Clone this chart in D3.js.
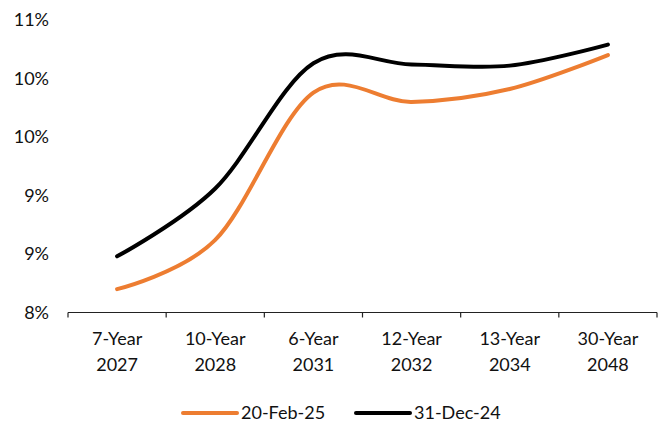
<!DOCTYPE html>
<html>
<head>
<meta charset="utf-8">
<script src="https://cdn.jsdelivr.net/npm/d3@7"></script>
<style>
  body { margin: 0; background: #fff; }
  text { font-family: Lato, "Open Sans", sans-serif; fill: #111; }
</style>
</head>
<body>
<div id="chart"></div>
<script>
var categories = ["7-Year|2027", "10-Year|2028", "6-Year|2031", "12-Year|2032", "13-Year|2034", "30-Year|2048"];
var feb25 = [8.20, 8.62, 9.88, 9.80, 9.91, 10.20];
var dec24 = [8.48, 9.06, 10.13, 10.12, 10.11, 10.29];
var yTicks = [8.0, 8.5, 9.0, 9.5, 10.0, 10.5];
var seriesNames = ["20-Feb-25", "31-Dec-24"];
var seriesColors = ["#ED7D31", "#000000"];

var width = 667, height = 428;
var margin = { top: 20, right: 10, bottom: 116, left: 68 };

var svg = d3.select("#chart").append("svg")
  .attr("width", width)
  .attr("height", height);

var x = d3.scaleBand()
  .domain(categories)
  .range([margin.left, 657]);

var y = d3.scaleLinear()
  .domain([8.0, 10.5])
  .range([312.5, margin.top]);

// y labels, no axis line
svg.append("g")
  .selectAll("text")
  .data(yTicks)
  .enter()
  .append("text")
  .attr("x", 49)
  .attr("y", function(d) { return y(d); })
  .attr("dy", "0.36em")
  .attr("text-anchor", "end")
  .style("font-size", "18px")
  .text(function(d) { return Math.round(d + 1e-9) + "%"; });

// x axis with ticks between categories
var xAxis = svg.append("g")
  .attr("transform", "translate(0," + y(8.0) + ")");
xAxis.append("line")
  .attr("x1", x.range()[0]).attr("x2", x.range()[1])
  .attr("stroke", "#222").attr("stroke-width", 1.2);
xAxis.selectAll(".tick")
  .data(categories.concat(["end"]))
  .enter()
  .append("line")
  .attr("x1", function(d, i) { return x.range()[0] + i * x.step(); })
  .attr("x2", function(d, i) { return x.range()[0] + i * x.step(); })
  .attr("y1", 0).attr("y2", 5)
  .attr("stroke", "#222").attr("stroke-width", 1.2);

var labels = xAxis.selectAll(".lbl")
  .data(categories)
  .enter()
  .append("text")
  .attr("text-anchor", "middle")
  .attr("transform", function(d) { return "translate(" + (x(d) + x.bandwidth() / 2) + ",0)"; })
  .style("font-size", "18px");
labels.append("tspan").attr("x", 0).attr("y", 32).text(function(d) { return d.split("|")[0]; });
labels.append("tspan").attr("x", 0).attr("y", 58).text(function(d) { return d.split("|")[1]; });

var line = d3.line()
  .x(function(d, i) { return x(categories[i]) + x.bandwidth() / 2; })
  .y(function(d) { return y(d); })
  .curve(d3.curveCardinal.tension(0));

[feb25, dec24].forEach(function(s, i) {
  svg.append("path")
    .datum(s)
    .attr("d", line)
    .attr("fill", "none")
    .attr("stroke", seriesColors[i])
    .attr("stroke-width", 4)
    .attr("stroke-linecap", "round");
});

// legend
var legendX = [183, 356];
var legend = svg.append("g");
seriesNames.forEach(function(n, i) {
  legend.append("line")
    .attr("x1", legendX[i]).attr("x2", legendX[i] + 54)
    .attr("y1", 413).attr("y2", 413)
    .attr("stroke", seriesColors[i])
    .attr("stroke-width", 4)
    .attr("stroke-linecap", "round");
  legend.append("text")
    .attr("x", legendX[i] + 58)
    .attr("y", 413)
    .attr("dy", "0.36em")
    .style("font-size", "18px")
    .text(n);
});
</script>
</body>
</html>
